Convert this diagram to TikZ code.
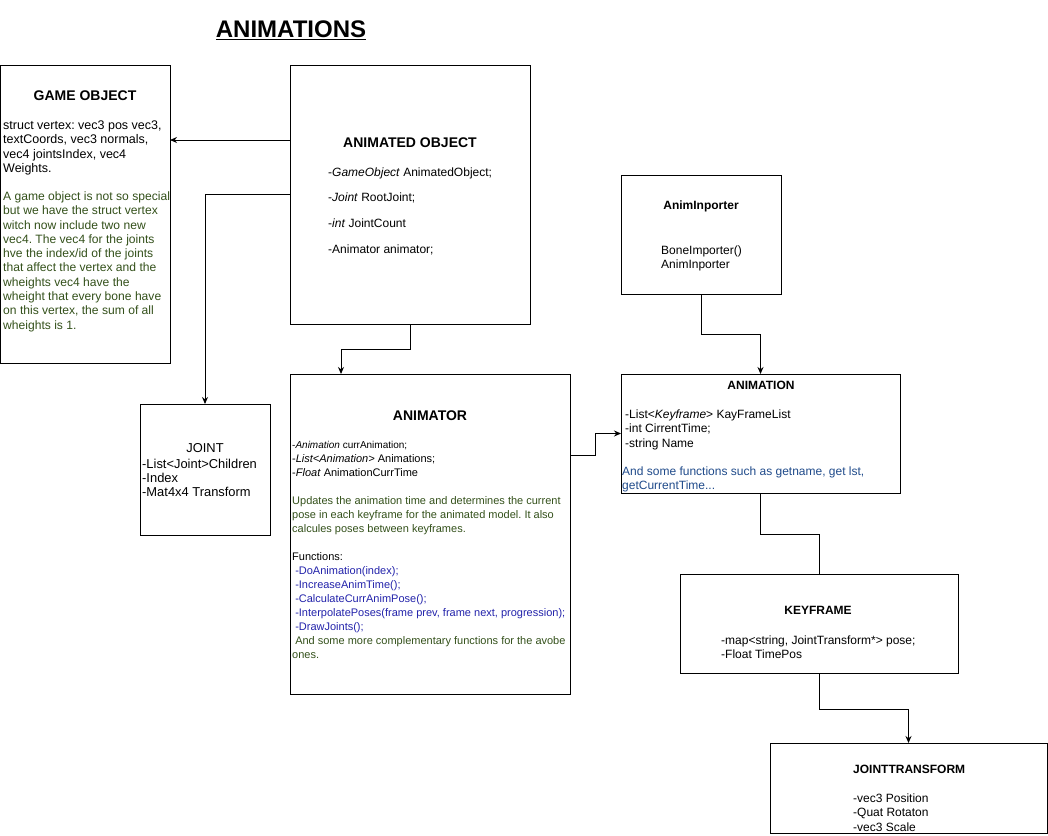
\documentclass[tikz,border=0pt]{standalone}
\usepackage{fontspec}
\setmainfont{Liberation Sans}
\usetikzlibrary{arrows.meta,positioning}

\definecolor{notegreen}{HTML}{33501A}
\definecolor{funcblue}{HTML}{2222AA}
\definecolor{noteblue}{HTML}{1F4A8A}

\frenchspacing

\begin{document}
\begin{tikzpicture}[x=1pt, y=-1pt,
    box/.style 2 args={rectangle, draw, line width=1pt, anchor=north west, inner sep=0pt, outer sep=0pt, minimum width=#1, minimum height=#2},
    head/.style={inner sep=0pt, font=\bfseries\fontsize{14}{16}\selectfont},
    smallhead/.style={inner sep=0pt, font=\bfseries\fontsize{12}{14}\selectfont},
    txt/.style={anchor=north west, inner sep=0pt, align=left, font=\fontsize{12}{14.3}\selectfont},
    bigtxt/.style={anchor=north west, inner sep=0pt, align=left, font=\fontsize{12.9}{14.3}\selectfont},
    smalltxt/.style={anchor=north west, inner sep=0pt, align=left, font=\fontsize{11}{14}\selectfont},
    arrow/.style={-{Stealth[length=7pt, width=6pt]}, line width=1pt},
    link/.style={line width=1pt}
]
    \useasboundingbox (0,0) rectangle (1048,835);

    % Title
    \node[font=\bfseries\fontsize{24}{28}\selectfont] (title) at (291,30) {\underline{ANIMATIONS}};

    % Boxes
    \node[box={170pt}{298pt}] (gameobj) at (0,65) {};
    \node[box={240pt}{259pt}] (animobj) at (290,65) {};
    \node[box={160pt}{119pt}] (importer) at (621,175) {};
    \node[box={130pt}{131pt}] (joint) at (140,404) {};
    \node[box={280pt}{320pt}] (animator) at (290,374) {};
    \node[box={279pt}{119pt}] (animation) at (621,374) {};
    \node[box={278pt}{99pt}] (keyframe) at (680,574) {};
    \node[box={277pt}{90pt}] (jtransform) at (770,743) {};

    % Game object
    \node[head] (gameobjhead) at (85,96) {GAME OBJECT};
    \node[txt, font=\fontsize{12.5}{14.3}\selectfont] (gameobjvert) at (3,120.5) {struct vertex: vec3 pos vec3,\\textCoords, vec3 normals,\\vec4 jointsIndex, vec4\\Weights.};
    \node[txt, font=\fontsize{12.1}{14.3}\selectfont, text=notegreen] (gameobjnote) at (3,191.5) {A game object is not so special\\but we have the struct vertex\\witch now include two new\\vec4. The vec4 for the joints\\hve the index/id of the joints\\that affect the vertex and the\\wheights vec4 have the\\wheight that every bone have\\on this vertex, the sum of all\\wheights is 1.};

    % Animated object
    \node[head] (animobjhead) at (410,143) {ANIMATED OBJECT};
    \node[txt, font=\fontsize{12}{25.6}\selectfont] (animobjtxt) at (328,167.5) {-\textit{GameObject} AnimatedObject;\\-\textit{Joint} RootJoint;\\-\textit{int} JointCount\\-Animator animator;};

    % Anim importer
    \node[smallhead] (importerhead) at (701,206) {AnimInporter};
    \node[txt] (importertxt) at (661,245.5) {BoneImporter()\\AnimInporter};

    % Joint
    \node[inner sep=0pt, font=\fontsize{12.9}{14}\selectfont] (jointhead) at (205,448) {JOINT};
    \node[bigtxt] (jointtxt) at (142,458.5) {-List<Joint>Children\\-Index\\-Mat4x4 Transform};

    % Animator
    \node[head] (animatorhead) at (430,416) {ANIMATOR};
    \node[smalltxt] (animatorvars) at (292,441) {{\fontsize{10}{14}\selectfont -\textit{Animation} currAnimation;}\\-\textit{List<Animation>} Animations;\\-\textit{Float} AnimationCurrTime};
    \node[smalltxt, text=notegreen] (animatornote) at (292,496.7) {Updates the animation time and determines the current\\pose in each keyframe for the animated model. It also\\calcules poses between keyframes.};
    \node[smalltxt] (animatorfunc) at (292,552.7) {Functions:};
    \node[smalltxt, text=funcblue] (animatorlist) at (292,566.7) {\ -DoAnimation(index);\\\ -IncreaseAnimTime();\\\ -CalculateCurrAnimPose();\\\ -InterpolatePoses(frame prev, frame next, progression);\\\ -DrawJoints();};
    \node[smalltxt, text=notegreen] (animatormore) at (292,636.7) {\ And some more complementary functions for the avobe\\ones.};

    % Animation
    \node[smallhead] (animationhead) at (761,385) {ANIMATION};
    \node[txt] (animationtxt) at (625,409.5) {-List<\textit{Keyframe}> KayFrameList\\-int CirrentTime;\\-string Name};
    \node[txt, text=noteblue] (animationnote) at (622,466.5) {And some functions such as getname, get lst,\\getCurrentTime...};

    % Keyframe
    \node[smallhead] (keyframehead) at (818,610) {KEYFRAME};
    \node[txt] (keyframetxt) at (721,635.5) {-map<string, JointTransform*> pose;\\-Float TimePos};

    % Joint transform
    \node[smallhead, anchor=west] (jtransformhead) at (853,769) {JOINTTRANSFORM};
    \node[txt] (jtransformtxt) at (853,793.5) {-vec3 Position\\-Quat Rotaton\\-vec3 Scale};

    % Connectors
    \draw[arrow] (animobj.west |- 0,140) -- (gameobj.east |- 0,140);
    \draw[arrow] (animobj.west) -| (joint.north);
    \draw[arrow] (animobj.south) -- ++(0,25) -| ([xshift=-89pt]animator.north);
    \draw[arrow] (animator.east |- 0,455) -- ++(25,0) |- (animation.west);
    \draw[arrow] (importer.south) -- ++(0,40) -| (animation.north);
    \draw[link] (animation.south) -- ++(0,41) -| (keyframe.north);
    \draw[arrow] (keyframe.south) -- ++(0,36) -| (jtransform.north);
\end{tikzpicture}
\end{document}
